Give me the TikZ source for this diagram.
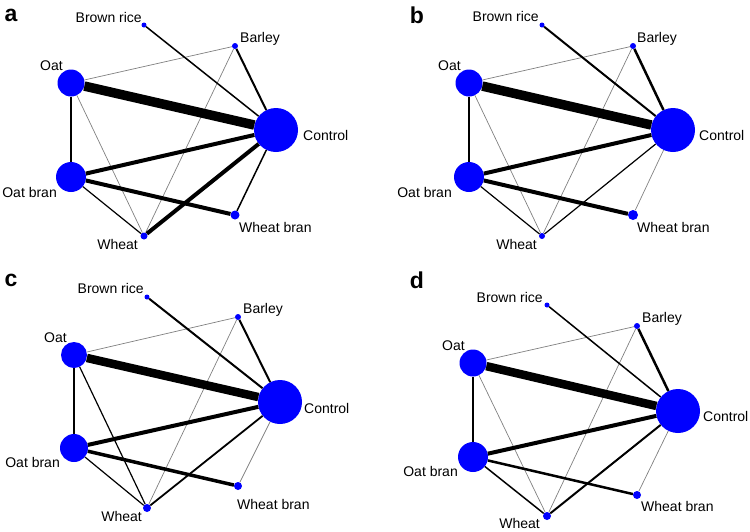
\documentclass[tikz,border=0pt]{standalone}
\usepackage{fontspec}
\setmainfont{Liberation Sans}
\begin{document}
\begin{tikzpicture}[x=1pt,y=-1pt,
  nd/.style={circle,fill=blue,draw=none,inner sep=0pt,minimum size=#1},
  lbl/.style={font=\fontsize{14}{14}\selectfont,inner sep=0pt},
  plet/.style={font=\fontsize{23}{23}\selectfont\bfseries,inner sep=0pt},
  gedge/.style={draw=gray,line width=0.7pt},
  bedge/.style={draw=black,line width=#1}]
\useasboundingbox (0,0) rectangle (750,531);
% ---------------- panel a ----------------
\node[plet] (pa) at (11,15) {a};
\node[nd=5pt]  (aBR) at (144,25) {};
\node[nd=6pt]  (aBa) at (235,46) {};
\node[nd=27pt] (aO)  at (71,83) {};
\node[nd=44pt] (aC)  at (276,130) {};
\node[nd=30pt] (aOB) at (71,177) {};
\node[nd=9pt]  (aWB) at (235,215) {};
\node[nd=7pt]  (aW)  at (144,236) {};
\node[lbl,anchor=east] (laBR) at (142,17) {Brown rice};
\node[lbl,anchor=west] (laBa) at (240,39) {Barley};
\node[lbl,anchor=east] (laO)  at (63,66) {Oat};
\node[lbl,anchor=west] (laC)  at (303,135) {Control};
\node[lbl,anchor=east] (laOB) at (57,192) {Oat bran};
\node[lbl,anchor=west] (laWB) at (239,227) {Wheat bran};
\node[lbl,anchor=east] (laW)  at (138,244) {Wheat};
\draw[gedge] (aO) -- (aBa);
\draw[gedge] (aO) -- (aW);
\draw[gedge] (aBa) -- (aW);
\draw[bedge=9.5pt] (aO) -- (aC);
\draw[bedge=2pt] (aO) -- (aOB);
\draw[bedge=1.5pt] (aBR) -- (aC);
\draw[bedge=2pt] (aBa) -- (aC);
\draw[bedge=4pt] (aOB) -- (aC);
\draw[bedge=4pt] (aOB) -- (aWB);
\draw[bedge=1.2pt] (aOB) -- (aW);
\draw[bedge=4pt] (aW) -- (aC);
\draw[bedge=1.5pt] (aWB) -- (aC);
% ---------------- panel b ----------------
\node[plet] (pb) at (417,15) {b};
\node[nd=5pt]  (bBR) at (542,25) {};
\node[nd=6pt]  (bBa) at (633,46) {};
\node[nd=27pt] (bO)  at (469,83) {};
\node[nd=44pt] (bC)  at (673,130) {};
\node[nd=30pt] (bOB) at (469,177) {};
\node[nd=10pt] (bWB) at (633,215) {};
\node[nd=6pt]  (bW)  at (542,236) {};
\node[lbl,anchor=east] (lbBR) at (539,16) {Brown rice};
\node[lbl,anchor=west] (lbBa) at (637,39) {Barley};
\node[lbl,anchor=east] (lbO)  at (461,66) {Oat};
\node[lbl,anchor=west] (lbC)  at (699,135) {Control};
\node[lbl,anchor=east] (lbOB) at (452,192) {Oat bran};
\node[lbl,anchor=west] (lbWB) at (637,227) {Wheat bran};
\node[lbl,anchor=east] (lbW)  at (537,244) {Wheat};
\draw[gedge] (bO) -- (bBa);
\draw[gedge] (bO) -- (bW);
\draw[gedge] (bBa) -- (bW);
\draw[gedge] (bWB) -- (bC);
\draw[bedge=9.5pt] (bO) -- (bC);
\draw[bedge=1.3pt] (bO) -- (bOB);
\draw[bedge=2pt] (bBR) -- (bC);
\draw[bedge=2.5pt] (bBa) -- (bC);
\draw[bedge=4pt] (bOB) -- (bC);
\draw[bedge=4pt] (bOB) -- (bWB);
\draw[bedge=1.2pt] (bOB) -- (bW);
\draw[bedge=1.2pt] (bW) -- (bC);
% ---------------- panel c ----------------
\node[plet] (pc) at (11,280) {c};
\node[nd=5pt]  (cBR) at (147,297) {};
\node[nd=6pt]  (cBa) at (238,317) {};
\node[nd=26pt] (cO)  at (74,355) {};
\node[nd=44pt] (cC)  at (280,402) {};
\node[nd=28pt] (cOB) at (74,448) {};
\node[nd=8pt]  (cWB) at (238,486) {};
\node[nd=8pt]  (cW)  at (147,508) {};
\node[lbl,anchor=east] (lcBR) at (144,288) {Brown rice};
\node[lbl,anchor=west] (lcBa) at (243,310) {Barley};
\node[lbl,anchor=east] (lcO)  at (67,338) {Oat};
\node[lbl,anchor=west] (lcC)  at (304,408) {Control};
\node[lbl,anchor=east] (lcOB) at (60,462) {Oat bran};
\node[lbl,anchor=west] (lcWB) at (237,504) {Wheat bran};
\node[lbl,anchor=east] (lcW)  at (142,516) {Wheat};
\draw[gedge] (cO) -- (cBa);
\draw[gedge] (cBa) -- (cW);
\draw[gedge] (cWB) -- (cC);
\draw[bedge=8.5pt] (cO) -- (cC);
\draw[bedge=1.5pt] (cO) -- (cOB);
\draw[bedge=1.2pt] (cO) -- (cW);
\draw[bedge=2pt] (cBR) -- (cC);
\draw[bedge=2pt] (cBa) -- (cC);
\draw[bedge=4pt] (cOB) -- (cC);
\draw[bedge=3.5pt] (cOB) -- (cWB);
\draw[bedge=1.2pt] (cOB) -- (cW);
\draw[bedge=1.8pt] (cW) -- (cC);
% ---------------- panel d ----------------
\node[plet] (pd) at (417,280) {d};
\node[nd=5pt]  (dBR) at (547,305) {};
\node[nd=6pt]  (dBa) at (637,326) {};
\node[nd=27pt] (dO)  at (473,363) {};
\node[nd=44pt] (dC)  at (678,411) {};
\node[nd=30pt] (dOB) at (473,457) {};
\node[nd=8pt]  (dWB) at (637,495) {};
\node[nd=8pt]  (dW)  at (547,516) {};
\node[lbl,anchor=east] (ldBR) at (543,297) {Brown rice};
\node[lbl,anchor=west] (ldBa) at (642,319) {Barley};
\node[lbl,anchor=east] (ldO)  at (465,346) {Oat};
\node[lbl,anchor=west] (ldC)  at (703,416) {Control};
\node[lbl,anchor=east] (ldOB) at (458,471) {Oat bran};
\node[lbl,anchor=west] (ldWB) at (641,506) {Wheat bran};
\node[lbl,anchor=east] (ldW)  at (540,523) {Wheat};
\draw[gedge] (dO) -- (dBa);
\draw[gedge] (dO) -- (dW);
\draw[gedge] (dBa) -- (dW);
\draw[gedge] (dWB) -- (dC);
\draw[bedge=8.5pt] (dO) -- (dC);
\draw[bedge=2.2pt] (dO) -- (dOB);
\draw[bedge=1.5pt] (dBR) -- (dC);
\draw[bedge=2.5pt] (dBa) -- (dC);
\draw[bedge=4pt] (dOB) -- (dC);
\draw[bedge=2.5pt] (dOB) -- (dWB);
\draw[bedge=1.5pt] (dOB) -- (dW);
\draw[bedge=2pt] (dW) -- (dC);
\end{tikzpicture}
\end{document}
